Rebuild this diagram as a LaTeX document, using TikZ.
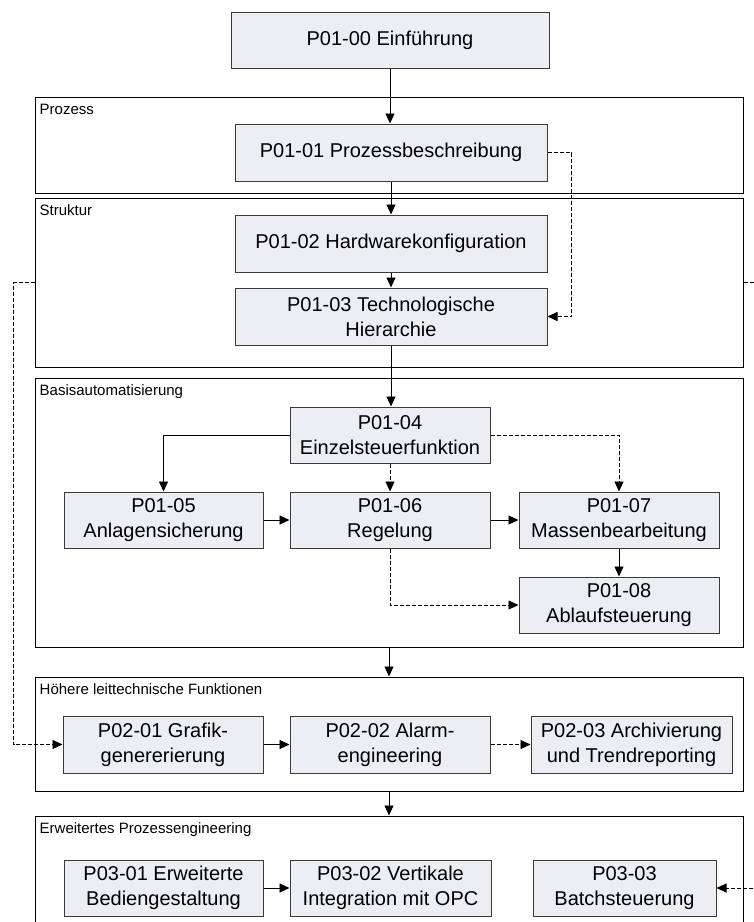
\documentclass[tikz,border=0pt]{standalone}
\usepackage{fontspec}
\setmainfont{Liberation Sans}
\usetikzlibrary{arrows.meta}
\definecolor{boxfill}{HTML}{ECEEF4}
\definecolor{boxline}{HTML}{3A3A3A}
\begin{document}
\begin{tikzpicture}[x=1pt,y=-1pt,
  box/.style={draw=boxline, fill=boxfill, line width=1pt, align=center, inner sep=0pt, font=\fontsize{20}{25}\selectfont},
  frame/.style={draw=black, line width=1pt, inner sep=0pt},
  flabel/.style={anchor=north west, inner sep=0pt, font=\fontsize{15}{18}\selectfont},
  conn/.style={draw=black, line width=0.9pt, -{Triangle[length=10pt,width=9pt]}},
  dconn/.style={conn, dash pattern=on 4pt off 2pt},
]
\useasboundingbox (0,0) rectangle (754,922);
\clip (0,0) rectangle (754,922);

% frames
\node[frame, minimum width=708, minimum height=96] (fprozess) at (389,145) {};
\node[frame, minimum width=708, minimum height=169] (fstruktur) at (389,282.5) {};
\node[frame, minimum width=708, minimum height=269] (fbasis) at (389,512.5) {};
\node[frame, minimum width=708, minimum height=114] (fhoehere) at (389,734) {};
\node[frame, minimum width=708, minimum height=134] (ferweitert) at (389,883) {};

\node[flabel] (lprozess) at ([shift={(5,7)}]fprozess.north west) {Prozess};
\node[flabel] (lstruktur) at ([shift={(5,7)}]fstruktur.north west) {Struktur};
\node[flabel] (lbasis) at ([shift={(5,7)}]fbasis.north west) {Basisautomatisierung};
\node[flabel] (lhoehere) at ([shift={(5,7)}]fhoehere.north west) {Höhere leittechnische Funktionen};
\node[flabel] (lerweitert) at ([shift={(5,7)}]ferweitert.north west) {Erweitertes Prozessengineering};

% boxes
\node[box, minimum width=318, minimum height=56] (p00) at (390,40) {P01-00 Einführung};
\node[box, minimum width=312, minimum height=57] (p01) at (391,152.5) {P01-01 Prozessbeschreibung};
\node[box, minimum width=312, minimum height=57] (p02) at (391,243.5) {P01-02 Hardwarekonfiguration};
\node[box, minimum width=312, minimum height=57] (p03) at (391,316.5) {P01-03 Technologische\\Hierarchie};
\node[box, minimum width=200, minimum height=56] (p04) at (390,435) {P01-04\\Einzelsteuerfunktion};
\node[box, minimum width=199, minimum height=56] (p05) at (163.5,520) {P01-05\\Anlagensicherung};
\node[box, minimum width=200, minimum height=56] (p06) at (390,520) {P01-06\\Regelung};
\node[box, minimum width=200, minimum height=56] (p07) at (619,520) {P01-07\\Massenbearbeitung};
\node[box, minimum width=200, minimum height=56] (p08) at (619,605) {P01-08\\Ablaufsteuerung};
\node[box, minimum width=200, minimum height=57] (q01) at (163,744.5) {P02-01 Grafik-\\genererierung};
\node[box, minimum width=200, minimum height=57] (q02) at (390,744.5) {P02-02 Alarm-\\engineering};
\node[box, minimum width=201, minimum height=57] (q03) at (631.5,744.5) {P02-03 Archivierung\\und Trendreporting};
\node[box, minimum width=199, minimum height=56] (r01) at (163.5,888) {P03-01 Erweiterte\\Bediengestaltung};
\node[box, minimum width=201, minimum height=56] (r02) at (390.5,888) {P03-02 Vertikale\\Integration mit OPC};
\node[box, minimum width=183, minimum height=56] (r03) at (624.5,888) {P03-03\\Batchsteuerung};

% connectors
\draw[conn] (p00.south) -- (p00.south |- p01.north);
\draw[conn] (p01.south) -- (p02.north);
\draw[conn] (p02.south) -- (p03.north);
\draw[dconn] (p01.east) -- ++(24,0) |- (p03.east);
\draw[conn] (p03.south) -- (p03.south |- p04.north);
\draw[conn] (p04.west) -| (p05.north);
\draw[dconn] (p04.south) -- (p06.north);
\draw[dconn] (p04.east) -| (p07.north);
\draw[conn] (p05.east) -- (p06.west);
\draw[conn] (p06.east) -- (p07.west);
\draw[conn] (p07.south) -- (p08.north);
\draw[dconn] (p06.south) |- (p08.west);
\draw[conn] (fbasis.south) -- (fhoehere.north);
\draw[conn] (q01.east) -- (q02.west);
\draw[dconn] (q02.east) -- (q03.west);
\draw[dconn] (fstruktur.west) -- ++(-21,0) |- (q01.west);
\draw[conn] (fhoehere.south) -- (ferweitert.north);
\draw[conn] (r01.east) -- (r02.west);
\draw[dconn] (fstruktur.east) -- ++(20,0) |- (r03.east);
\end{tikzpicture}
\end{document}
